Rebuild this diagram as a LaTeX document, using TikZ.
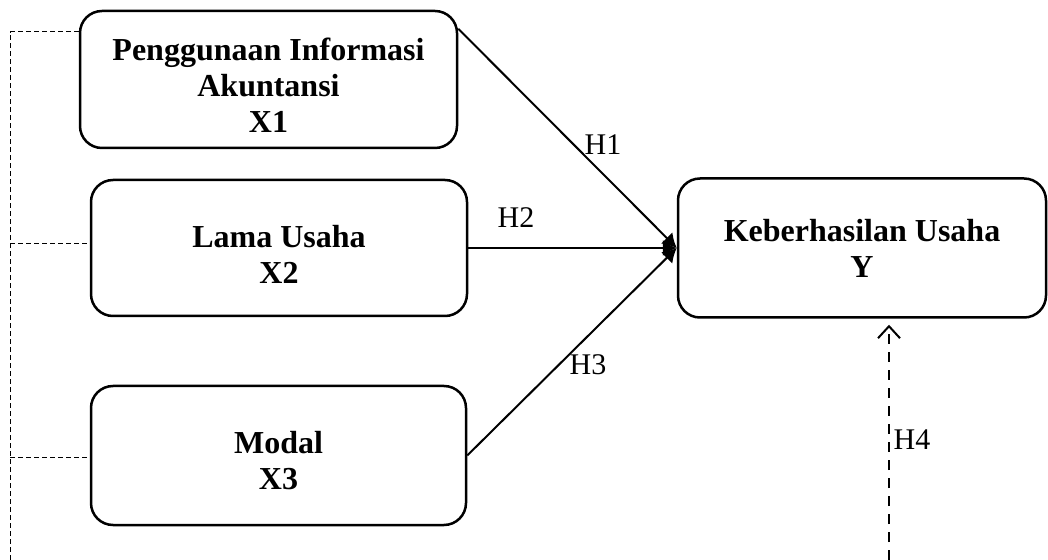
\documentclass[tikz,border=0pt]{standalone}
\usepackage{fontspec}
\setmainfont{Liberation Serif}
\usetikzlibrary{arrows.meta}

\tikzset{
  varbox/.style={draw, line width=1.25pt, rounded corners=11pt, align=center,
    font=\fontsize{16}{18}\selectfont\bfseries, inner sep=0pt},
  conn/.style={line width=1pt, -{Latex[length=7pt,width=8pt]}},
  guide/.style={line width=0.5pt, dash pattern=on 2.5pt off 1.5pt},
  hfour/.style={line width=1pt, dash pattern=on 5pt off 4pt,
    -{Straight Barb[length=6pt,width=11pt]}, shorten >=3pt},
  hyp/.style={font=\fontsize{15}{18}\selectfont, inner sep=0pt},
}

\begin{document}
\begin{tikzpicture}[x=0.5pt, y=-0.5pt]
    \useasboundingbox (0,0) rectangle (1048,560);
    % draw variable boxes
    \node[varbox, minimum width=188.5pt, minimum height=68.5pt] (x1) at (268.5,79.5)
        {\rule{0pt}{17pt}Penggunaan Informasi\\Akuntansi\\X1};
    \node[varbox, minimum width=188pt, minimum height=68pt] (x2) at (279,248)
        {\rule{0pt}{18pt}Lama Usaha\\X2};
    \node[varbox, minimum width=187.5pt, minimum height=69.5pt] (x3) at (278.5,455.5)
        {\rule{0pt}{16pt}Modal\\X3};
    \node[varbox, minimum width=184pt, minimum height=69.5pt] (y) at (862,248)
        {Keberhasilan Usaha\\Y};

    % draw hypothesis arrows
    \draw[conn] ([yshift=-9.5pt]x1.north east) -- (y.west);
    \draw[conn] (x2.east) -- (y.west);
    \draw[conn] (x3.east) -- (y.west);

    % draw hypothesis labels
    \node[hyp] (h1) at (603,145) {H1};
    \node[hyp] (h2) at (516,218) {H2};
    \node[hyp] (h3) at (588,365) {H3};
    \node[hyp] (h4) at (912,440) {H4};

    % draw dashed guide on the left
    \coordinate (d0) at (10,560);
    \coordinate (d1) at (10,32);
    \coordinate (d2) at (10,244);
    \coordinate (d3) at (10,458);
    \draw[guide] (x1.west |- d1) -- (d1) -- (d0);
    \foreach \n in {2,3}
        \draw[guide] (d\n) -- (d\n -| x\n.west);

    % draw simultaneous arrow
    \coordinate (s) at (889,560);
    \draw[hfour] (s) -- (s |- y.south);

\end{tikzpicture}
\end{document}
